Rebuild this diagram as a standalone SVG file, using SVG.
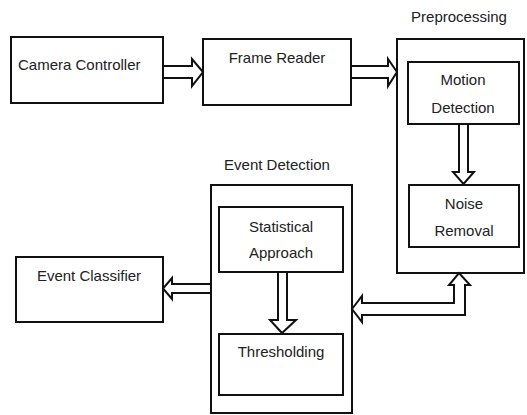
<svg xmlns="http://www.w3.org/2000/svg" width="527" height="415" viewBox="0 0 527 415">
<style>
.box{fill:#fff;stroke:#111;stroke-width:2}
.arr{fill:#fff;stroke:#111;stroke-width:2;stroke-linejoin:miter}
text{font-family:"Liberation Sans",Arial,sans-serif;font-size:15px;fill:#222}
.c{text-anchor:middle}
</style>
<rect width="527" height="415" fill="#fff"/>
<g id="camera-controller">
<rect class="box" x="11" y="37" width="152" height="66"/>
<text x="18" y="70">Camera Controller</text>
</g>
<g id="frame-reader">
<rect class="box" x="203" y="39" width="148" height="66"/>
<text class="c" x="277" y="63">Frame Reader</text>
</g>
<g id="preprocessing">
<rect class="box" x="397" y="39" width="127" height="234"/>
<text class="c" x="459" y="22">Preprocessing</text>
</g>
<g id="motion-detection">
<rect class="box" x="408" y="62" width="111" height="62"/>
<text class="c" x="463" y="85">Motion</text>
<text class="c" x="463" y="113">Detection</text>
</g>
<g id="noise-removal">
<rect class="box" x="409" y="185" width="110" height="62"/>
<text class="c" x="464" y="209">Noise</text>
<text class="c" x="464" y="236">Removal</text>
</g>
<g id="event-detection">
<rect class="box" x="211" y="185" width="141" height="228"/>
<text class="c" x="277" y="170">Event Detection</text>
</g>
<g id="statistical-approach">
<rect class="box" x="219" y="207" width="124" height="65"/>
<text class="c" x="281" y="232">Statistical</text>
<text class="c" x="281" y="258">Approach</text>
</g>
<g id="thresholding">
<rect class="box" x="219" y="334" width="124" height="61"/>
<text class="c" x="281" y="357">Thresholding</text>
</g>
<g id="event-classifier">
<rect class="box" x="16" y="257" width="147" height="65"/>
<text class="c" x="89" y="281">Event Classifier</text>
</g>
<g id="connectors">
<polygon class="arr" points="163,66 192,66 192,59 203,72 192,86 192,78 163,78"/>
<polygon class="arr" points="351,66 388,66 388,59 397,72 388,86 388,78 351,78"/>
<polygon class="arr" points="459,124 468,124 468,172 474,172 463.5,184 453,172 459,172"/>
<polygon class="arr" points="278,272 287,272 287,320 296,320 282,333 270,320 278,320"/>
<polygon class="arr" points="211,284 172,284 172,278 163,288.5 172,299 172,293 211,293"/>
<polygon class="arr" points="352,309 362,296 362,303 454,303 454,285 449,285 459,273 470,285 465,285 465,315 362,315 362,322"/>
</g>
</svg>
